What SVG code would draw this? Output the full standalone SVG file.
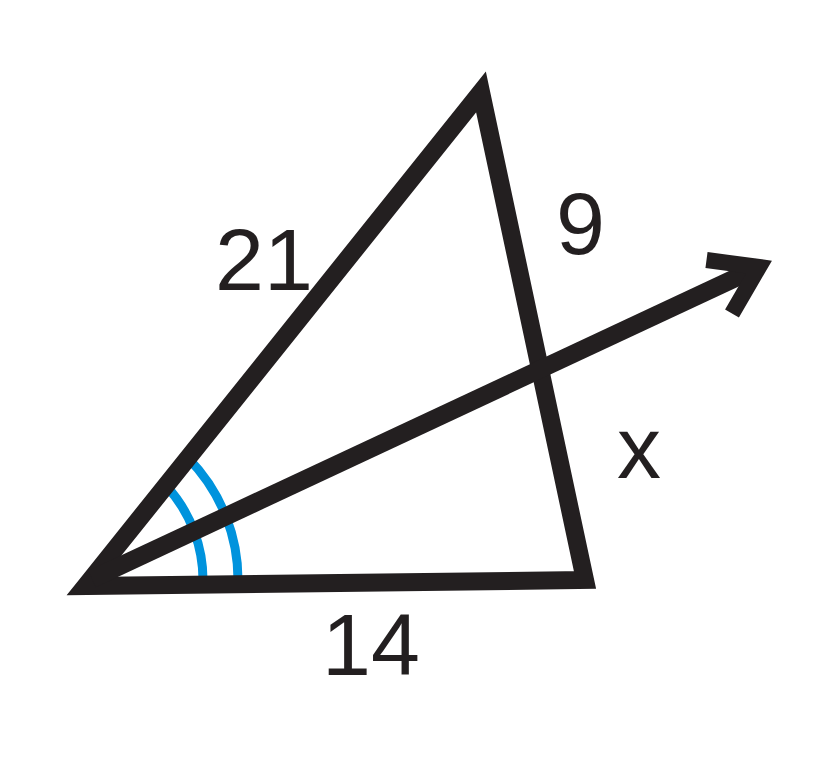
<svg xmlns="http://www.w3.org/2000/svg" width="822" height="764" viewBox="0 0 822 764">
<style>
.ln{fill:none;stroke:#231f20;stroke-linejoin:miter;stroke-miterlimit:10;stroke-linecap:butt}
.arc{fill:none;stroke:#0093dd;stroke-width:9}
.lb{font-family:"Liberation Sans",Arial,sans-serif;font-size:88px;fill:#231f20}
</style>
<rect width="822" height="764" fill="#ffffff"/>
<g id="angle-marks">
<path class="arc" d="M202.9 584.9 A139 139 0 0 0 166.0 485.6"/>
<path class="arc" d="M237.9 586.1 A174 174 0 0 0 187.9 457.8"/>
</g>
<g id="triangle">
<polygon class="ln" stroke-width="18" points="85.5,586 481,92 585,580"/>
</g>
<g id="connectors">
<line class="ln" stroke-width="18" x1="92" y1="579" x2="759" y2="267"/>
<polyline class="ln" stroke-width="16" points="706.5,260 759,267 732,313.5"/>
</g>
<g id="labels">
<text class="lb" x="215" y="290">21</text>
<text class="lb" x="556" y="254">9</text>
<text class="lb" x="617" y="478">x</text>
<text class="lb" x="322" y="675">14</text>
</g>
</svg>
